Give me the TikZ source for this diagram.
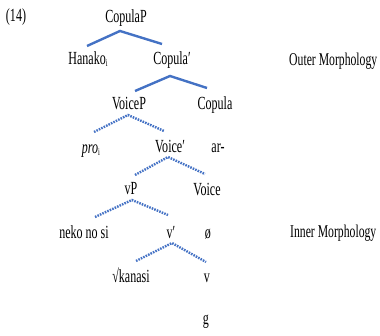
\documentclass[tikz,border=0pt]{standalone}
\usepackage{fontspec}
\setmainfont[FakeStretch=0.65]{Liberation Serif}
\usetikzlibrary{calc}
\definecolor{treeblue}{HTML}{4472C4}
\newcommand{\smallsub}[1]{\raisebox{-2pt}{\fontsize{10}{10}\selectfont #1}}
\begin{document}
\begin{tikzpicture}[x=1pt,y=-1pt,
  lab/.style={anchor=base,inner sep=0pt,font=\fontsize{18.5}{20}\selectfont},
  labw/.style={lab,anchor=base west,font=\fontsize{18}{20}\selectfont},
  solidbr/.style={draw=treeblue,line width=2.4pt},
  dotbr/.style={draw=treeblue,line width=2.4pt,dash pattern=on 1.6pt off 1.1pt}]
\useasboundingbox (0,0) rectangle (380,336);
\node[lab] (ex) at (16,22) {(14)};
\node[lab] (CopulaP) at (126,23) {CopulaP};
\node[lab] (Hanako) at (88,65) {Hanako\smallsub{i}};
\node[lab] (Copulabar) at (172,65) {Copula′};
\node[labw] (Outer) at (289,66) {Outer Morphology};
\node[lab] (VoiceP) at (129,110) {VoiceP};
\node[lab] (Copula) at (215,110) {Copula};
\node[lab] (pro) at (91,154) {\textit{pro}\smallsub{i}};
\node[lab] (Voicebar) at (170,153) {Voice′};
\node[lab] (ar) at (218,153) {ar-};
\node[lab] (vP) at (131,195) {vP};
\node[lab] (Voice) at (207,196) {Voice};
\node[lab] (neko) at (84,239) {neko no si};
\node[lab] (vbar) at (171,239) {v′};
\node[lab] (null) at (208,239) {ø};
\node[labw] (Inner) at (290,238) {Inner Morphology};
\node[lab] (kanasi) at (131,283) {√kanasi};
\node[lab] (v) at (207,283) {v};
\node[lab] (g) at (206,325) {g};
% solid branches
\draw[solidbr] ($(Hanako.base)+(-1,-19)$) -- ($(CopulaP.base)+(-6,8)$) -- ($(Copulabar.base)+(-10,-21)$);
\draw[solidbr] ($(VoiceP.base)+(6,-19)$) -- ($(Copulabar.base)+(-2,11)$) -- ($(Copula.base)+(-8,-22)$);
% dotted branches
\draw[dotbr] ($(pro.base)+(3,-22)$) -- ($(VoiceP.base)+(-1,5)$) -- ($(Voicebar.base)+(-6,-22)$);
\draw[dotbr] ($(vP.base)+(4,-20)$) -- ($(Voicebar.base)+(-2,4)$) -- ($(Voice.base)+(-2,-22)$);
\draw[dotbr] ($(neko.base)+(11,-22)$) -- ($(vP.base)+(1,5)$) -- ($(vbar.base)+(-3,-24)$);
\draw[dotbr] ($(kanasi.base)+(5,-22)$) -- ($(vbar.base)+(1,4)$) -- ($(v.base)+(-1,-21)$);
\end{tikzpicture}
\end{document}
